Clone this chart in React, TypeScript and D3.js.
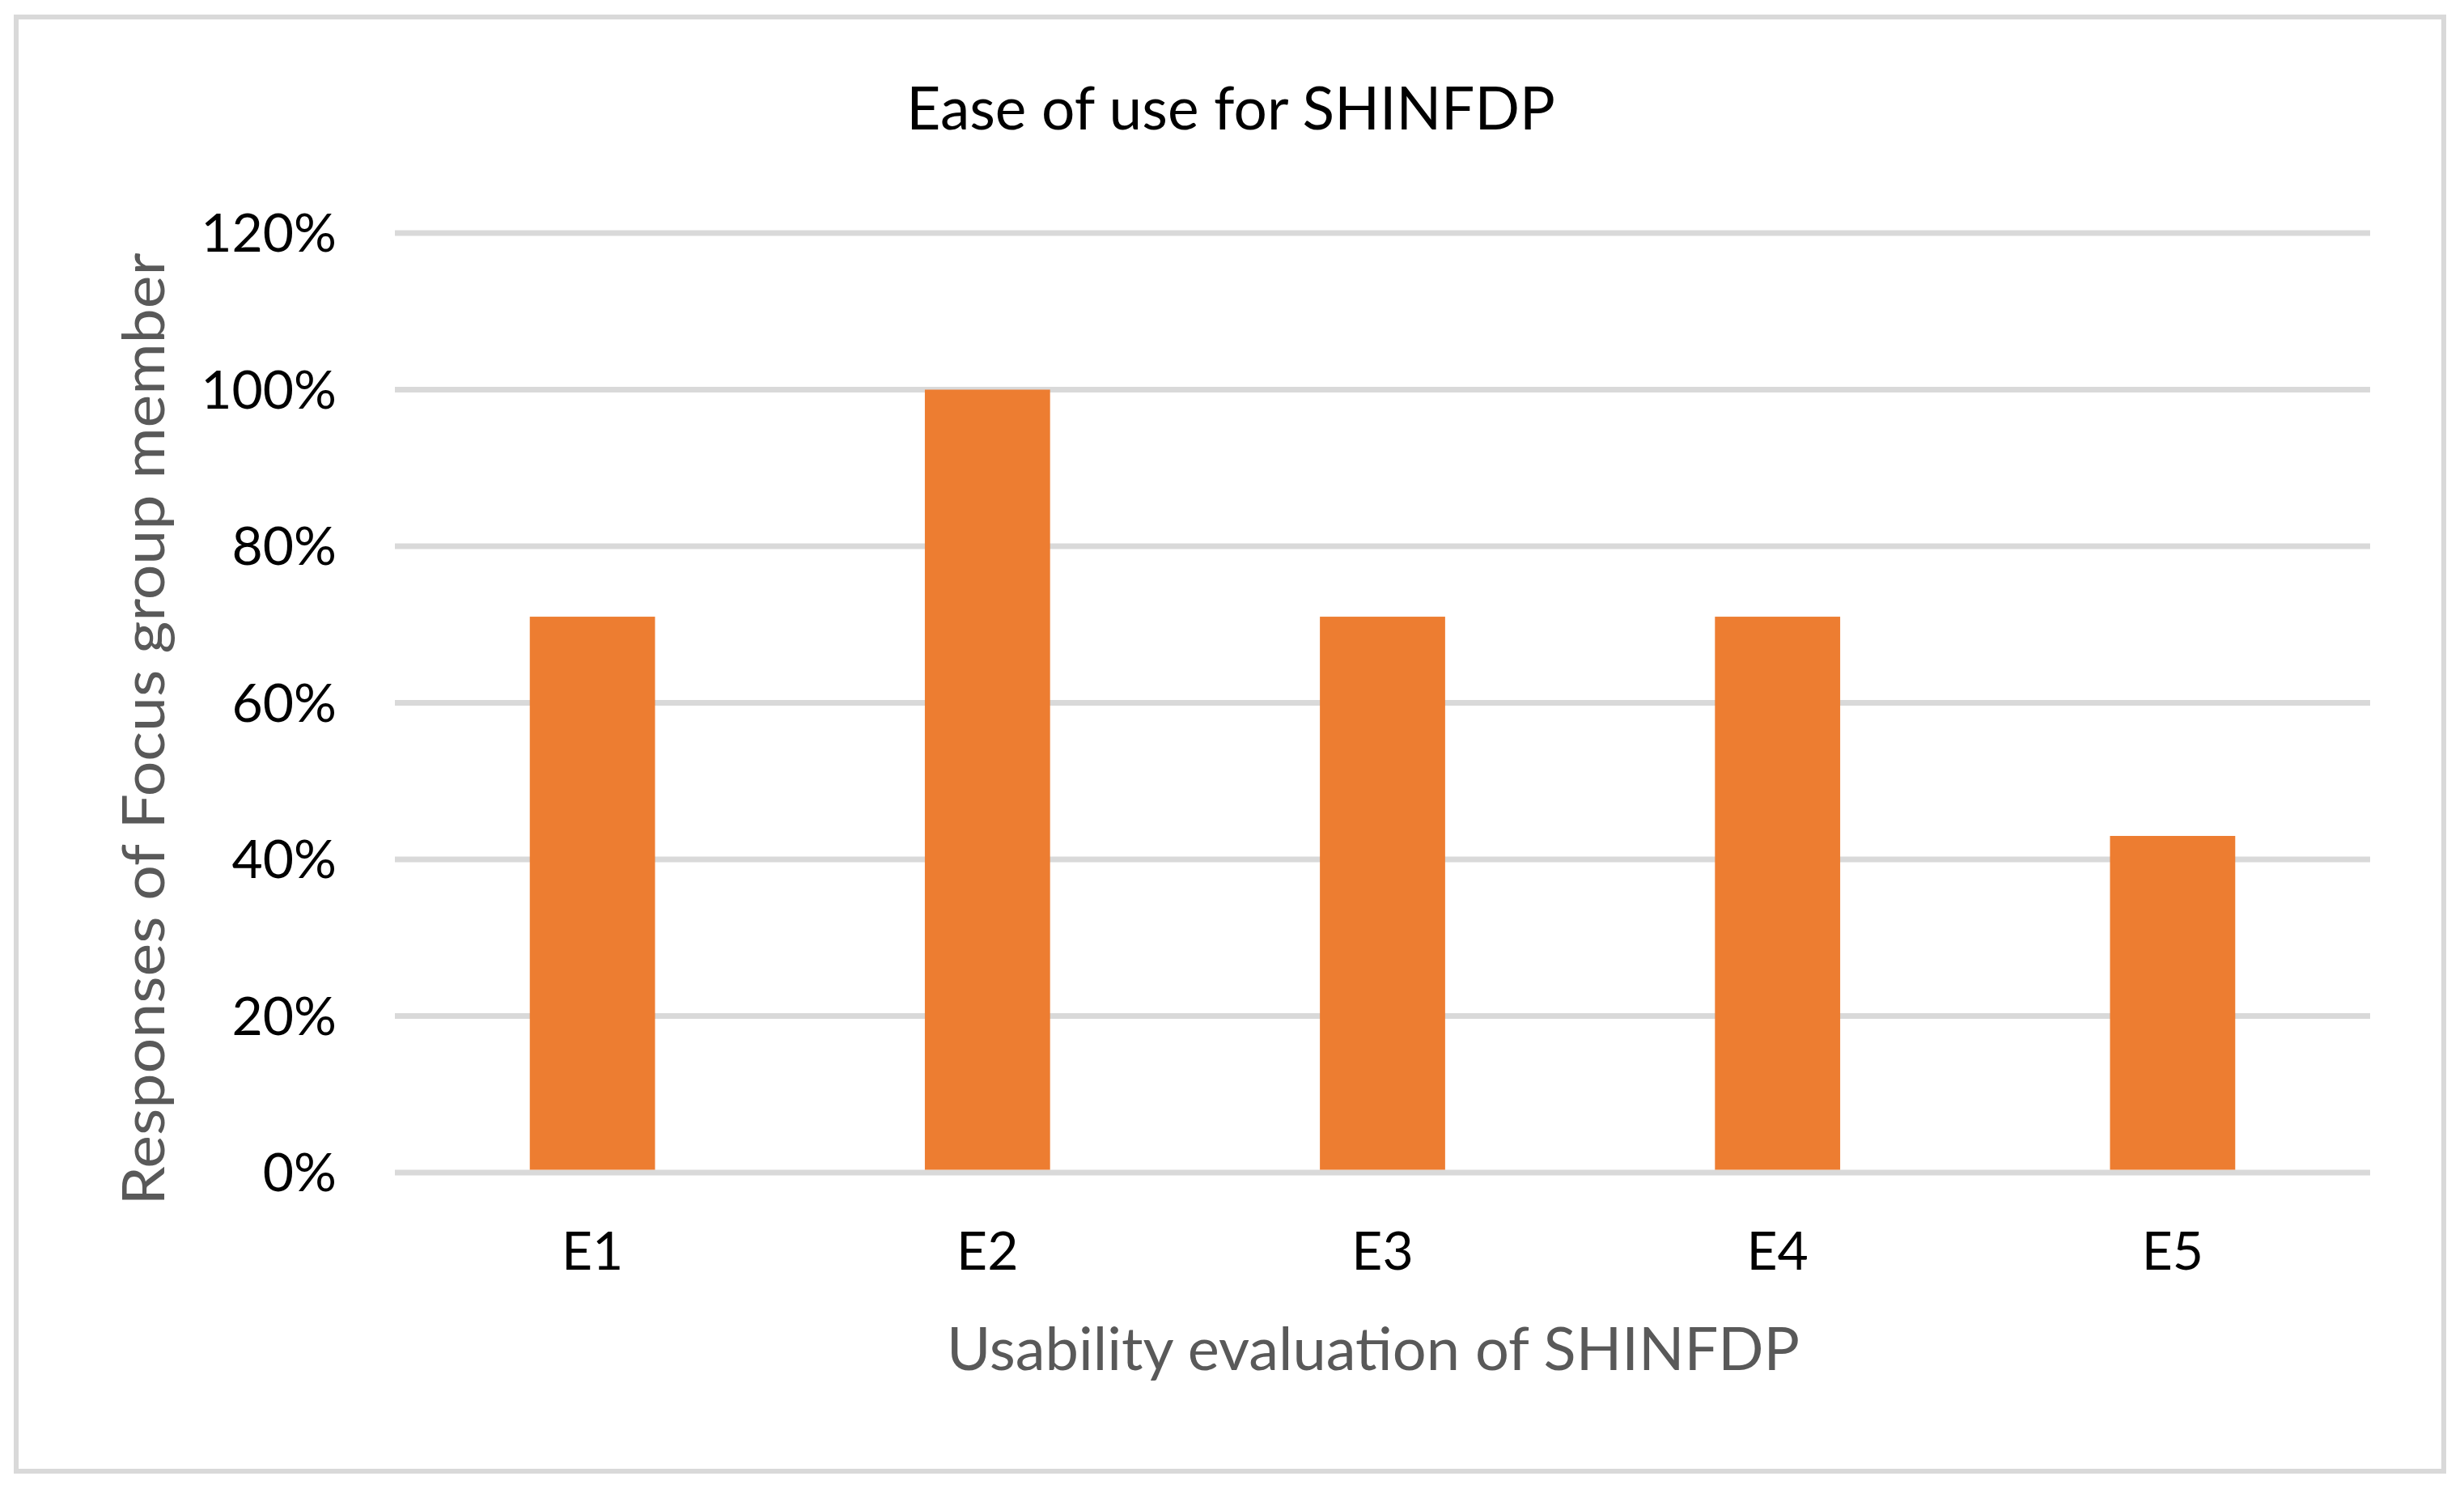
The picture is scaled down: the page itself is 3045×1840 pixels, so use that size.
import { useEffect, useRef } from 'react'
import * as d3 from 'd3'

const categories = ['E1', 'E2', 'E3', 'E4', 'E5']
const responses = [0.71, 1.0, 0.71, 0.71, 0.43]
const yTicks = [0, 0.2, 0.4, 0.6, 0.8, 1.0, 1.2]

const chartTitle = 'Ease of use for SHINFDP'
const xTitle = 'Usability evaluation of SHINFDP'
const yTitle = 'Responses of Focus group member'

const App = () => {
    const d3Container = useRef<SVGSVGElement | null>(null)

    useEffect(() => {
        if (!d3Container.current) return
        document.body.style.margin = '0'

        const width = 3045
        const height = 1840
        const font = 'Lato, Carlito, "Open Sans", sans-serif'

        d3.select(d3Container.current).selectAll('*').remove()

        const svg = d3
            .select(d3Container.current)
            .attr('width', width)
            .attr('height', height)

        svg.append('rect')
            .attr('width', width)
            .attr('height', height)
            .attr('fill', '#ffffff')

        // outer chart border
        svg.append('rect')
            .attr('x', 20)
            .attr('y', 21)
            .attr('width', 3000)
            .attr('height', 1797)
            .attr('fill', 'none')
            .attr('stroke', '#d9d9d9')
            .attr('stroke-width', 6)

        const xScale = d3
            .scaleBand()
            .domain(categories)
            .range([488, 2929])
            .paddingInner(0.683)
            .paddingOuter(0.683 / 2)

        const yScale = d3.scaleLinear().domain([0, 1.2]).range([1449, 288])

        // gridlines
        svg.append('g')
            .selectAll('line')
            .data(yTicks)
            .join('line')
            .attr('x1', 488)
            .attr('x2', 2929)
            .attr('y1', d => yScale(d))
            .attr('y2', d => yScale(d))
            .attr('stroke', '#d9d9d9')
            .attr('stroke-width', 7)

        svg.append('g')
            .selectAll('rect')
            .data(responses)
            .join('rect')
            .attr('x', (_, i) => xScale(categories[i])!)
            .attr('y', d => yScale(d))
            .attr('width', xScale.bandwidth())
            .attr('height', d => yScale(0) - 3.5 - yScale(d))
            .attr('fill', '#ed7d31')

        // y tick labels
        svg.append('g')
            .selectAll('text')
            .data(yTicks)
            .join('text')
            .attr('x', 416)
            .attr('y', d => yScale(d) + 23)
            .attr('text-anchor', 'end')
            .attr('font-family', font)
            .attr('font-size', 66)
            .attr('fill', '#000000')
            .text(d => d3.format('.0%')(d))

        // x tick labels
        svg.append('g')
            .selectAll('text')
            .data(categories)
            .join('text')
            .attr('x', d => xScale(d)! + xScale.bandwidth() / 2)
            .attr('y', 1569)
            .attr('text-anchor', 'middle')
            .attr('font-family', font)
            .attr('font-size', 66)
            .attr('fill', '#000000')
            .text(d => d)

        svg.append('text')
            .attr('x', 1521)
            .attr('y', 160)
            .attr('text-anchor', 'middle')
            .attr('font-family', font)
            .attr('font-size', 73)
            .attr('fill', '#000000')
            .text(chartTitle)

        svg.append('text')
            .attr('x', 1697)
            .attr('y', 1693)
            .attr('text-anchor', 'middle')
            .attr('font-family', font)
            .attr('font-size', 74)
            .attr('fill', '#595959')
            .text(xTitle)

        svg.append('text')
            .attr('transform', 'translate(203, 901) rotate(-90)')
            .attr('text-anchor', 'middle')
            .attr('font-family', font)
            .attr('font-size', 72)
            .attr('fill', '#595959')
            .attr('textLength', 1177)
            .attr('lengthAdjust', 'spacingAndGlyphs')
            .text(yTitle)
    }, [])

    return (
        <div style={{ position: 'absolute', left: 0, top: 0 }}>
            <svg ref={d3Container}></svg>
        </div>
    )
}

export default App
